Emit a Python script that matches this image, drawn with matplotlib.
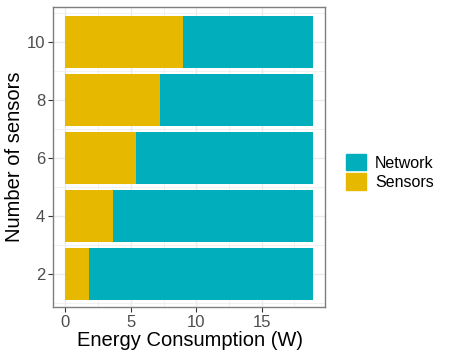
import matplotlib.pyplot as plt
import matplotlib.patches as patches
import numpy as np

plt.rcParams['font.family'] = ['Liberation Sans', 'DejaVu Sans']

# data
n_sensors = [2, 4, 6, 8, 10]
sensors_w = [1.8, 3.6, 5.4, 7.2, 9.0]
total_w = [18.9, 18.9, 18.9, 18.9, 18.9]
network_w = [t - s for t, s in zip(total_w, sensors_w)]

c_network = '#00AFBB'
c_sensors = '#E7B800'

fig = plt.figure(figsize=(4.5, 3.6), dpi=100)
W, H = 450, 360
ax = fig.add_axes([53 / W, (H - 307) / H, (325 - 53) / W, (307 - 7) / H])

ax.barh(n_sensors, sensors_w, height=1.79, color=c_sensors, zorder=3)
ax.barh(n_sensors, network_w, left=sensors_w, height=1.79, color=c_network, zorder=3)

ax.set_xlim(-0.95, 19.85)
ax.set_ylim(0.85, 11.2)
ax.set_xticks([0, 5, 10, 15])
ax.set_yticks(n_sensors)
ax.set_xticks([2.5, 7.5, 12.5, 17.5], minor=True)
ax.set_yticks([1, 3, 5, 7, 9, 11], minor=True)

ax.grid(True, which='major', color='#EBEBEB', lw=1.0, zorder=0)
ax.grid(True, which='minor', color='#EBEBEB', lw=0.5, zorder=0)
ax.tick_params(which='minor', length=0)
ax.tick_params(which='major', length=3.5, width=0.8, color='#333333',
               labelsize=12, labelcolor='#4D4D4D', pad=2)
for s in ax.spines.values():
    s.set_color('#7F7F7F')
    s.set_linewidth(1.0)

ax.set_xlabel('Energy Consumption (W)', fontsize=14.5)
ax.set_ylabel('Number of sensors', fontsize=14.5)
ax.xaxis.set_label_coords((190 - 53) / (325 - 53), -(341 - 307) / (307 - 7), transform=ax.transAxes)
ax.yaxis.set_label_coords(-(53 - 15) / (325 - 53), (307 - 157) / (307 - 7), transform=ax.transAxes)
ax.xaxis.label.set_va('center')
ax.yaxis.label.set_va('center')

handles = [patches.Patch(color=c_network, label='Network'),
           patches.Patch(color=c_sensors, label='Sensors')]
fig.legend(handles=handles, loc='center left', bbox_to_anchor=(340 / W, 1 - 172 / H),
           frameon=False, fontsize=11.5, handlelength=1.2, handleheight=1.2,
           labelspacing=0.17, handletextpad=0.6, borderaxespad=0)

fig.savefig('out.png', dpi=100)
